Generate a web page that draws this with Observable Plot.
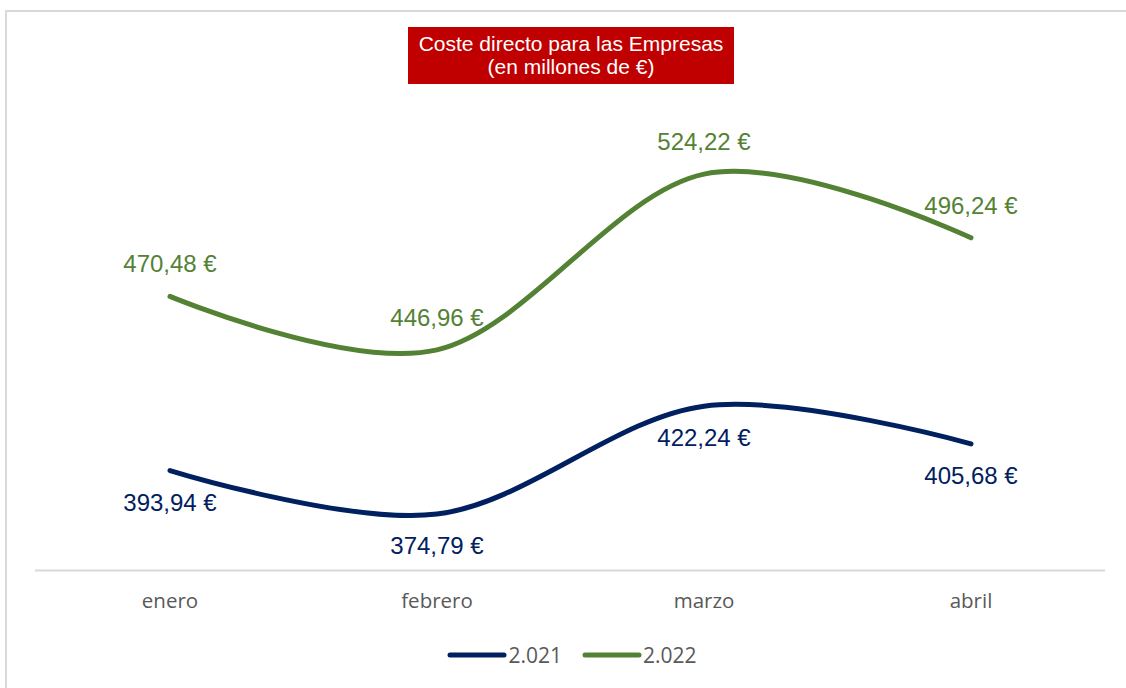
<!DOCTYPE html>
<html>
<head>
<meta charset="utf-8">
<script src="https://cdn.jsdelivr.net/npm/d3@7"></script>
<script src="https://cdn.jsdelivr.net/npm/@observablehq/plot@0.6"></script>
<style>
  html, body { margin: 0; padding: 0; background: #fff; }
  #wrap { position: relative; width: 1126px; height: 688px; overflow: hidden; background: #fff; }
  #frameTop { position: absolute; left: 5px; top: 10px; width: 1121px; height: 2px; background: #d9d9d9; }
  #frameLeft { position: absolute; left: 5px; top: 10px; width: 2px; height: 678px; background: #d9d9d9; }
  #title { position: absolute; left: 408px; top: 27px; width: 326px; height: 57px; background: #C00000; color: #fff;
           font-family: "Liberation Sans", Arial, sans-serif; font-size: 21px; line-height: 23px; text-align: center;
           box-sizing: border-box; padding-top: 5px; }
  #chart { position: absolute; left: 0; top: 0; }
  #legend { position: absolute; left: 9px; top: 638px; width: 1126px; text-align: center; font-family: "Open Sans", sans-serif;
            font-size: 21px; color: #595959; }
  .item { display: inline-flex; align-items: center; margin: 0 10px; }
  .item svg { display: block; margin-right: 1px; }
</style>
</head>
<body>
<div id="wrap">
  <div id="frameTop"></div>
  <div id="frameLeft"></div>
  <div id="chart"></div>
  <div id="title">Coste directo para las Empresas<br>(en millones de €)</div>
  <div id="legend"></div>
</div>
<script>
const months = ["enero", "febrero", "marzo", "abril"];
const seriesNames = ["2.021", "2.022"];
const values2021 = [393.94, 374.79, 422.24, 405.68];
const values2022 = [470.48, 446.96, 524.22, 496.24];
const seriesColors = ["#002060", "#548235"];

const data = [];
months.forEach((m, i) => data.push({month: m, series: seriesNames[0], value: values2021[i]}));
months.forEach((m, i) => data.push({month: m, series: seriesNames[1], value: values2022[i]}));

const fmt = v => v.toFixed(2).replace(".", ",") + " €";

const chart = Plot.plot({
  width: 1126,
  height: 630,
  marginLeft: 35,
  marginRight: 21,
  marginTop: 115,
  marginBottom: 60,
  x: {type: "band", domain: months, padding: 0, label: null},
  y: {domain: [350, 550], axis: null},
  color: {domain: seriesNames, range: seriesColors},
  style: {background: "transparent", overflow: "visible"},
  marks: [
    Plot.ruleY([350], {stroke: "#d9d9d9", strokeWidth: 2}),
    Plot.axisX({tickSize: 0, tickPadding: 23, fontSize: 20.5, fontFamily: "Open Sans, sans-serif", color: "#595959", label: null}),
    Plot.line(data, {x: "month", y: "value", z: "series", stroke: "series", curve: "cardinal", strokeWidth: 5, strokeLinecap: "round", strokeLinejoin: "round"}),
    Plot.text(data.filter(d => d.series === seriesNames[1]), {x: "month", y: "value", text: d => fmt(d.value), fill: seriesColors[1], dy: -24, lineAnchor: "bottom", fontSize: 24, fontFamily: "Liberation Sans, Arial, sans-serif"}),
    Plot.text(data.filter(d => d.series === seriesNames[0]), {x: "month", y: "value", text: d => fmt(d.value), fill: seriesColors[0], dy: 40, lineAnchor: "bottom", fontSize: 24, fontFamily: "Liberation Sans, Arial, sans-serif"})
  ]
});
document.getElementById("chart").appendChild(chart);

const legend = document.getElementById("legend");
seriesNames.forEach((s, i) => {
  const item = document.createElement("span");
  item.className = "item";
  item.innerHTML = `<svg width="60" height="10"><line x1="3" y1="5" x2="57" y2="5" stroke="${seriesColors[i]}" stroke-width="5" stroke-linecap="round"/></svg><span>${s}</span>`;
  legend.appendChild(item);
});
</script>
</body>
</html>
